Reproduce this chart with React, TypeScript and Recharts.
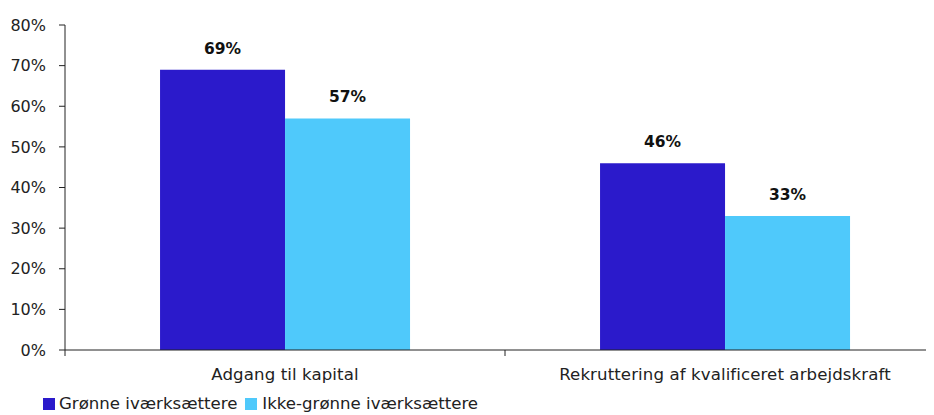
import React from 'react';
import { BarChart, Bar, XAxis, YAxis, Legend, LabelList } from 'recharts';

const categories = ['Adgang til kapital', 'Rekruttering af kvalificeret arbejdskraft'];
const groenne = [0.69, 0.46];
const ikkeGroenne = [0.57, 0.33];
const yTicks = [0, 0.1, 0.2, 0.3, 0.4, 0.5, 0.6, 0.7, 0.8];

const data = categories.map((name, i) => ({
  name,
  groenne: groenne[i],
  ikkeGroenne: ikkeGroenne[i],
}));

const FONT = '"DejaVu Sans", sans-serif';
const AXIS = '#222';
const pct = (v: number) => `${Math.round(v * 100)}%`;

// category width in px (plot width / number of categories)
const CAT_W = 440;

const XTick = (props: any) => {
  const { x, y, payload, index } = props;
  return (
    <g>
      <line x1={x + CAT_W / 2} y1={y - 8} x2={x + CAT_W / 2} y2={y - 2} stroke={AXIS} />
      {index === 0 && <line x1={x - CAT_W / 2} y1={y - 8} x2={x - CAT_W / 2} y2={y - 2} stroke={AXIS} />}
      <text x={x} y={y + 22} textAnchor="middle" fontSize={16.6} letterSpacing={0.1} fill="#222" fontFamily={FONT}>
        {payload.value}
      </text>
    </g>
  );
};

const LegendContent = () => (
  <div style={{ display: 'flex', gap: 8, fontFamily: FONT, fontSize: 16.6, color: '#222', paddingLeft: 35, paddingTop: 6 }}>
    <span style={{ display: 'flex', alignItems: 'center' }}>
      <span style={{ width: 12, height: 12, background: '#2B1ACB', marginRight: 4, display: 'inline-block' }} />
      Grønne iværksættere
    </span>
    <span style={{ display: 'flex', alignItems: 'center' }}>
      <span style={{ width: 12, height: 12, background: '#4FC9FB', marginRight: 5, display: 'inline-block' }} />
      Ikke-grønne iværksættere
    </span>
  </div>
);

export default function App() {
  return (
    <div style={{ width: 926, height: 407, overflow: 'hidden' }}>
      <BarChart
        width={940}
        height={407}
        data={data}
        margin={{ top: 17, right: 3, left: 0, bottom: 0 }}
        barCategoryGap="21.6%"
        barGap={0}
      >
        <YAxis
          width={57}
          domain={[0, 0.8]}
          ticks={yTicks}
          tickFormatter={pct}
          tick={{ fontSize: 16, fill: '#222', fontFamily: FONT }}
          axisLine={{ stroke: AXIS }}
          tickLine={{ stroke: AXIS }}
          tickSize={6}
          tickMargin={13}
        />
        <XAxis
          dataKey="name"
          height={38}
          axisLine={{ stroke: AXIS }}
          tickLine={false}
          tick={<XTick />}
          interval={0}
        />
        <Legend verticalAlign="bottom" align="left" height={27} content={<LegendContent />} />
        <Bar dataKey="groenne" fill="#2B1ACB" isAnimationActive={false}>
          <LabelList dataKey="groenne" position="top" offset={16} formatter={pct}
            style={{ fontSize: 15.5, fontWeight: 700, fill: '#111', fontFamily: FONT }} />
        </Bar>
        <Bar dataKey="ikkeGroenne" fill="#4FC9FB" isAnimationActive={false}>
          <LabelList dataKey="ikkeGroenne" position="top" offset={16} formatter={pct}
            style={{ fontSize: 15.5, fontWeight: 700, fill: '#111', fontFamily: FONT }} />
        </Bar>
      </BarChart>
    </div>
  );
}
